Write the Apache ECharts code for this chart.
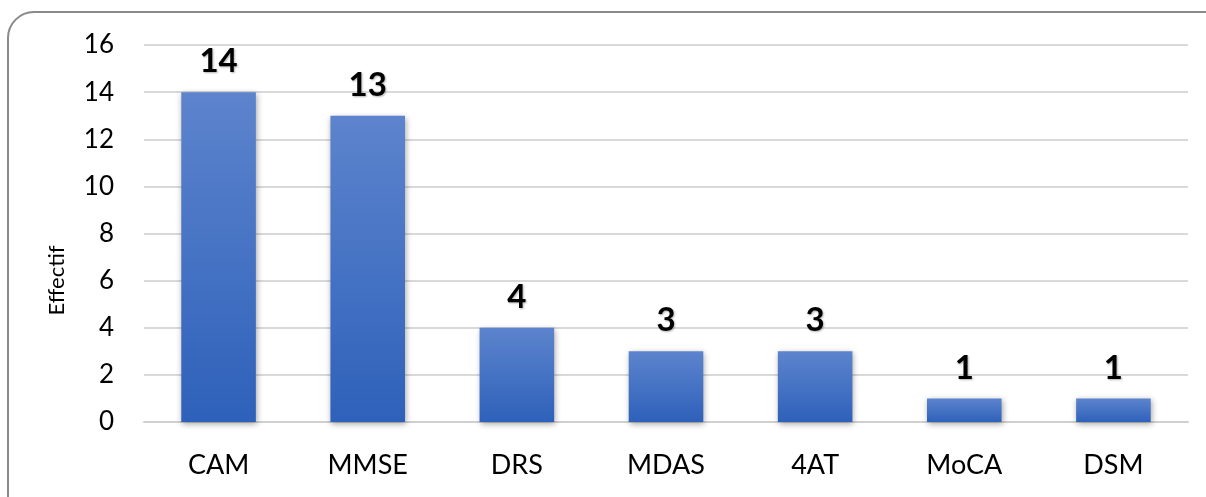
<!DOCTYPE html>
<html>
<head>
<meta charset="utf-8">
<script src="https://cdn.jsdelivr.net/npm/echarts@6/dist/echarts.min.js"></script>
<style>
  html, body { margin: 0; padding: 0; background: #fff; }
  #chart { width: 1206px; height: 497px; }
</style>
</head>
<body>
<div id="chart"></div>
<script>
const categories = ['CAM', 'MMSE', 'DRS', 'MDAS', '4AT', 'MoCA', 'DSM']
const values = [14, 13, 4, 3, 3, 1, 1]
const yTicks = { min: 0, max: 16, interval: 2 }
const yName = 'Effectif'

const chart = echarts.init(document.getElementById('chart'))
const font = 'Lato, "Open Sans", sans-serif'

chart.setOption({
  backgroundColor: '#fff',
  animation: false,
  graphic: [{
    type: 'rect',
    shape: { x: 8, y: 12, width: 1240, height: 520, r: 26 },
    style: { fill: 'none', stroke: '#8a8a8a', lineWidth: 2 },
    silent: true,
  }],
  grid: { left: 144, right: 18, top: 45, bottom: 75 },
  xAxis: {
    type: 'category',
    data: categories,
    axisLine: { lineStyle: { color: '#d0d0d0', width: 2 } },
    axisTick: { show: false },
    axisLabel: { color: '#000', fontSize: 27, fontFamily: font, margin: 30 },
  },
  yAxis: {
    type: 'value',
    min: yTicks.min,
    max: yTicks.max,
    interval: yTicks.interval,
    name: yName,
    nameLocation: 'middle',
    nameGap: 76,
    // pushed down a bit, the reference title sits below the axis middle
    nameTextStyle: { color: '#000', fontSize: 22, fontFamily: font, padding: [0, 94, 0, 0] },
    axisLine: { show: false },
    axisTick: { show: false },
    axisLabel: { color: '#000', fontSize: 26, fontFamily: font, margin: 30 },
    splitLine: { lineStyle: { color: '#d9d9d9', width: 2 } },
  },
  series: [{
    type: 'bar',
    data: values,
    barWidth: '50%',
    itemStyle: {
      color: new echarts.graphic.LinearGradient(0, 0, 0, 1, [
        { offset: 0, color: '#5d84cd' },
        { offset: 1, color: '#2e61ba' },
      ]),
      shadowColor: 'rgba(0,0,0,0.35)',
      shadowBlur: 6,
      shadowOffsetX: 1,
      shadowOffsetY: 2,
    },
    label: {
      show: true,
      position: 'top',
      distance: 14,
      color: '#000',
      fontSize: 33,
      fontWeight: 'bold',
      fontFamily: font,
      textShadowColor: 'rgba(0,0,0,0.3)',
      textShadowBlur: 2,
      textShadowOffsetX: 1,
      textShadowOffsetY: 1,
    },
  }],
})
window.addEventListener('resize', () => chart.resize())
</script>
</body>
</html>
